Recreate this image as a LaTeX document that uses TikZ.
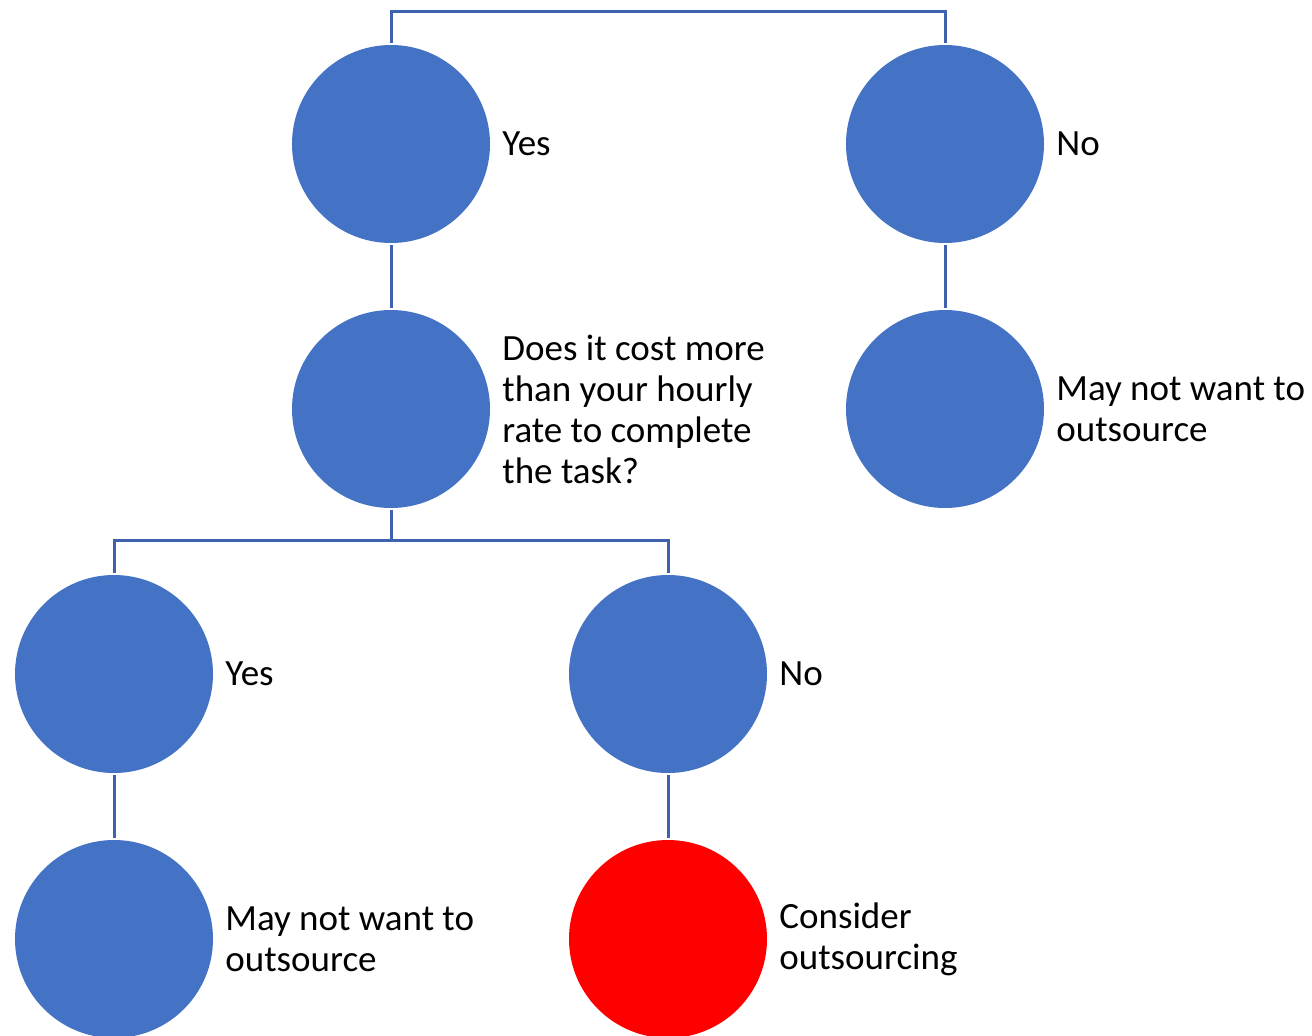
\documentclass[tikz,border=0pt]{standalone}
\usepackage{fontspec}
\setmainfont{Carlito}
\definecolor{fillblue}{HTML}{4472C4}
\definecolor{linkblue}{RGB}{63,98,175}
\definecolor{hot}{HTML}{FF0000}
\begin{document}
\begin{tikzpicture}[x=1pt,y=-1pt,
  ball/.style={circle,fill=fillblue,draw=none,minimum size=198pt,inner sep=0pt},
  hotball/.style={ball,fill=hot},
  lbl/.style={anchor=west,align=left,inner sep=0pt,font=\fontsize{37}{41}\selectfont,xshift=12pt},
  conn/.style={draw=linkblue,line width=3pt,shorten <=2pt,shorten >=2pt}]
\useasboundingbox (0,0) rectangle (1312,1036);
\node[ball] (y1) at (391,144) {};
\node[ball] (n1) at (945,144) {};
\node[ball] (q) at (391,409) {};
\node[ball] (m1) at (945,409) {};
\node[ball] (y2) at (114,674) {};
\node[ball] (n2) at (668,674) {};
\node[ball] (m2) at (114,939) {};
\node[hotball] (c) at (668,939) {};
\node[lbl] (ty1) at (y1.east) {Yes};
\node[lbl] (tn1) at (n1.east) {No};
\node[lbl] (tq) at (q.east) {Does it cost more\\than your hourly\\rate to complete\\the task?};
\node[lbl] (tm1) at (m1.east) {May not want to\\outsource};
\node[lbl] (ty2) at (y2.east) {Yes};
\node[lbl] (tn2) at (n2.east) {No};
\node[lbl] (tm2) at (m2.east) {May not want to\\outsource};
\node[lbl] (tc) at (c.east) {Consider\\outsourcing};
\draw[conn] (y1.north) -- ++(0,-33) -| (n1.north);
\draw[conn] (y1.south) -- (q.north);
\draw[conn] (n1.south) -- (m1.north);
\draw[conn] (q.south) -- ++(0,32) -| (y2.north);
\draw[conn] (q.south) -- ++(0,32) -| (n2.north);
\draw[conn] (y2.south) -- (m2.north);
\draw[conn] (n2.south) -- (c.north);
\end{tikzpicture}
\end{document}
